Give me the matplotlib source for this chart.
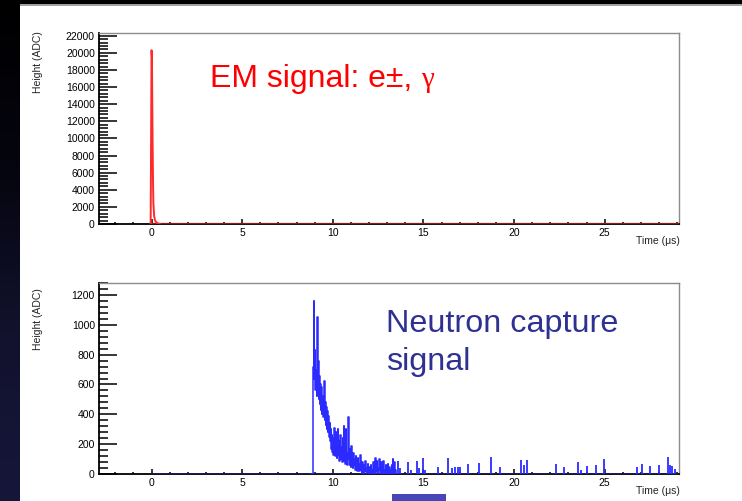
import numpy as np
import matplotlib
matplotlib.use("Agg")
import matplotlib.pyplot as plt
from matplotlib.patches import Rectangle
from matplotlib.ticker import MultipleLocator
from matplotlib.colors import LinearSegmentedColormap

plt.rcParams['font.family'] = ['Liberation Sans', 'DejaVu Sans']

# ---------------- data ----------------
# EM signal (top panel): time (us) and height (ADC)
em_time = [-0.05, 0.0, 0.02, 0.04, 0.06, 0.08, 0.10, 0.14, 0.18, 0.24, 0.32, 0.45]
em_height = [0, 20300, 19500, 14000, 9000, 5000, 2500, 1000, 500, 250, 100, 0]

# Neutron capture signal (bottom panel): dense part, bins of 0.03 us from 8.80 us
nc_start = 8.80
nc_bin = 0.03
nc_height = [
    0, 0, 0, 450, 720, 1160, 640, 830, 560, 700, 520, 1050, 600, 760, 500, 660,
    470, 600, 430, 580, 400, 520, 380, 560, 620, 360, 480, 330, 450, 300, 420,
    280, 390, 250, 340, 220, 300, 170, 260, 150, 240, 130, 220, 310, 120, 200,
    280, 110, 190, 300, 130, 220, 90, 170, 260, 100, 180, 80, 240, 120, 320,
    90, 160, 70, 300, 110, 140, 60, 380, 100, 170, 60, 150, 50, 190, 80, 120,
    40, 140, 60, 100, 30, 120, 50, 90, 20, 110, 40, 70, 20, 130, 30, 60, 10,
    80, 30, 50, 10, 60, 20, 90, 15, 40, 10, 70, 20, 50, 5, 40, 15, 60, 10, 30,
    5, 80, 20, 40, 0, 110, 60, 20, 90, 10, 40, 0, 100, 30, 60, 0, 80, 20, 50,
    0, 90, 10, 30, 0, 60, 0, 40, 0, 70, 20, 0, 50, 0, 30, 0, 60, 0, 100, 40,
    0, 80, 0, 30, 0,
]

# Neutron capture signal: sparse later spikes
sp_time = [13.62, 13.70, 14.16, 14.30, 14.62, 14.75, 14.99, 15.10, 15.82, 16.37,
           16.55, 16.74, 16.88, 17.02, 17.48, 18.07, 18.71, 19.23, 20.37, 20.55,
           20.70, 22.30, 22.73, 23.55, 23.70, 24.02, 24.51, 24.97, 26.78, 27.05,
           27.51, 27.97, 28.49, 28.60, 28.71, 28.89]
sp_height = [90, 40, 80, 30, 90, 40, 105, 30, 50, 105, 40, 50, 45, 50, 70, 75,
             115, 50, 95, 60, 95, 70, 50, 80, 30, 55, 60, 100, 50, 65, 55, 62,
             115, 60, 55, 35]

x_ticks = [0, 5, 10, 15, 20, 25]
em_yticks = list(range(0, 22001, 2000))
nc_yticks = list(range(0, 1201, 200))

# ---------------- figure ----------------
W, H = 742, 501
fig = plt.figure(figsize=(W / 100, H / 100), dpi=100)
fig.patch.set_facecolor('white')

# dark slide background strips
bg = fig.add_axes([0, 0, 20 / W, 1])
grad = np.linspace(0, 1, 256).reshape(-1, 1)
cmap = LinearSegmentedColormap.from_list('bg', ['#000000', '#05050f', '#12122e', '#16163a'])
bg.imshow(grad, aspect='auto', cmap=cmap, extent=[0, 1, 0, 1], origin='upper')
bg.set_axis_off()
fig.patches.append(Rectangle((0, 1 - 4 / H), 1, 4 / H, transform=fig.transFigure,
                             facecolor='black', edgecolor='none', zorder=5))
fig.patches.append(Rectangle((20 / W, 1 - 5.5 / H), 1, 1.5 / H, transform=fig.transFigure,
                             facecolor='#a0a0a0', edgecolor='none', zorder=5))
fig.patches.append(Rectangle((392 / W, 0), 54 / W, 7 / H, transform=fig.transFigure,
                             facecolor='#4646b8', edgecolor='none', zorder=5))

left = 99 / W
width = (679 - 99) / W
ax1 = fig.add_axes([left, 1 - 224 / H, width, 191 / H])
ax2 = fig.add_axes([left, 1 - 474 / H, width, 191 / H])

def style(ax, ymax, yminor, yticks):
    ax.set_xlim(-2.9, 29.1)
    ax.set_ylim(0, ymax)
    ax.set_xticks(x_ticks)
    ax.xaxis.set_minor_locator(MultipleLocator(1))
    ax.set_yticks(yticks)
    ax.yaxis.set_minor_locator(MultipleLocator(yminor))
    ax.tick_params(axis='y', which='major', direction='in', length=13, width=1.1,
                   labelsize=7.5, pad=3, colors='black')
    ax.tick_params(axis='y', which='minor', direction='in', length=6.5, width=1.1)
    ax.tick_params(axis='x', which='major', direction='in', length=3.6, width=1.1,
                   labelsize=7.5, pad=3)
    ax.tick_params(axis='x', which='minor', direction='in', length=1.8, width=1.1)
    ax.tick_params(which='both', top=False, right=False)
    for s in ['left', 'bottom']:
        ax.spines[s].set_color('black')
        ax.spines[s].set_linewidth(1.3)
    for s in ['top', 'right']:
        ax.spines[s].set_color('#8c8c8c')
        ax.spines[s].set_linewidth(1.0)
    ax.set_facecolor('white')

style(ax1, 22315, 400, em_yticks)
style(ax2, 1280, 40, nc_yticks)

# top: EM pulse
ax1.plot([0.0, 29.1], [0, 0], color='#8b1a1a', lw=1.6, zorder=3)
ax1.plot(em_time, em_height, color='#ff2a2a', lw=1.4, zorder=4)

# bottom: neutron capture waveform
nc_time = np.round(nc_start + nc_bin * np.arange(len(nc_height)), 3)
ax2.plot([0.0, 29.1], [0, 0], color='#1c1c78', lw=1.8, zorder=3)
ax2.step(nc_time, nc_height, where='post', color='#2b2bff', lw=1.1, zorder=4)
ax2.vlines(sp_time, 0, sp_height, color='#2b2bff', lw=1.3, zorder=4)

# annotations
t1 = fig.text(210 / W, 1 - 87 / H, 'EM signal: e±,', color='#ff0000', fontsize=23,
              ha='left', va='baseline')
renderer = fig.canvas.get_renderer()
bb = t1.get_window_extent(renderer=renderer)
fig.text((bb.x1 + 9) / W, 1 - 87 / H, 'γ', color='#ff0000', fontsize=21, ha='left',
         va='baseline', family=['Liberation Serif', 'DejaVu Serif'])
fig.text(386 / W, 1 - 332 / H, 'Neutron capture', color='#2e3192', fontsize=23.3,
         ha='left', va='baseline')
fig.text(386 / W, 1 - 370 / H, 'signal', color='#2e3192', fontsize=23.3,
         ha='left', va='baseline')

for ytop in (31, 288):
    fig.text(38 / W, 1 - ytop / H, 'Height (ADC)', rotation=90, fontsize=7.5,
             ha='center', va='top', color='#222222')
for yc in (241, 491):
    fig.text(680 / W, 1 - yc / H, 'Time (μs)', fontsize=7.5, ha='right',
             va='center', color='#222222')

fig.savefig('out.png', dpi=100, facecolor='white')
